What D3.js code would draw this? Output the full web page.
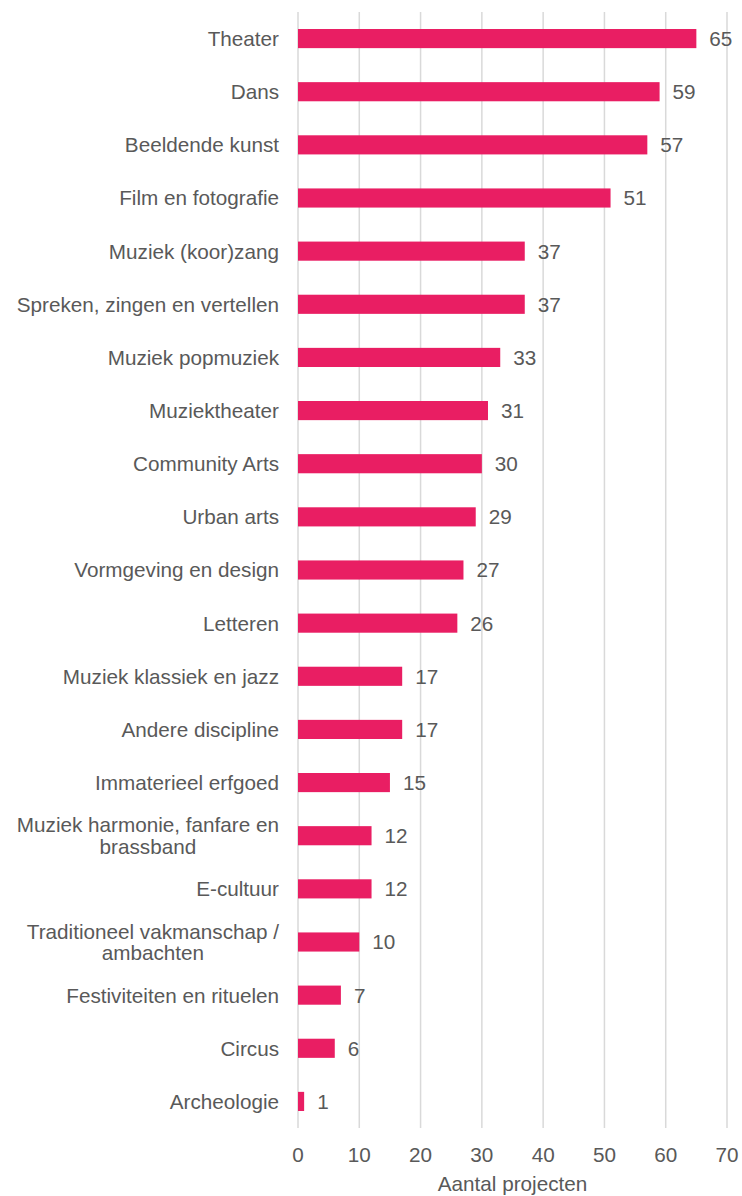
<!DOCTYPE html>
<html>
<head>
<meta charset="utf-8">
<script src="https://cdn.jsdelivr.net/npm/d3@7"></script>
<style>
    body { margin: 0; background: #fff; }
    text { font-family: "Liberation Sans", Arial, sans-serif; fill: #595959; }
</style>
</head>
<body>
<div id="chart"></div>
<script>
// chart data
const categories = [
    ["Theater"], ["Dans"], ["Beeldende kunst"], ["Film en fotografie"],
    ["Muziek (koor)zang"], ["Spreken, zingen en vertellen"], ["Muziek popmuziek"],
    ["Muziektheater"], ["Community Arts"], ["Urban arts"], ["Vormgeving en design"],
    ["Letteren"], ["Muziek klassiek en jazz"], ["Andere discipline"],
    ["Immaterieel erfgoed"], ["Muziek harmonie, fanfare en", "brassband"],
    ["E-cultuur"], ["Traditioneel vakmanschap /", "ambachten"],
    ["Festiviteiten en rituelen"], ["Circus"], ["Archeologie"]
];
const values = [65, 59, 57, 51, 37, 37, 33, 31, 30, 29, 27, 26, 17, 17, 15, 12, 12, 10, 7, 6, 1];
const xTicks = [0, 10, 20, 30, 40, 50, 60, 70];
const xTitle = "Aantal projecten";

const width = 742, height = 1196;
const margin = { top: 12, right: 15, bottom: 68, left: 298 };
const fontSize = 20.7;

let data = categories.map((c, i) => ({ key: c.join(" "), lines: c, value: values[i] }));

let svg = d3.select("#chart").append("svg")
    .attr("width", width)
    .attr("height", height);

let x = d3.scaleLinear()
    .domain([0, 70])
    .range([margin.left, width - margin.right]);

let y = d3.scaleBand()
    .domain(data.map(d => d.key))
    .range([margin.top, height - margin.bottom])
    .paddingInner(0.64)
    .paddingOuter(0.32);

// vertical gridlines
svg.append("g")
    .selectAll("line")
    .data(xTicks)
    .enter()
    .append("line")
    .attr("x1", d => x(d))
    .attr("x2", d => x(d))
    .attr("y1", margin.top)
    .attr("y2", height - margin.bottom)
    .attr("stroke", "#d9d9d9")
    .attr("stroke-width", 1.5);

// bars
svg.append("g")
    .selectAll("rect")
    .data(data)
    .enter()
    .append("rect")
    .attr("x", x(0))
    .attr("y", d => y(d.key))
    .attr("width", d => x(d.value) - x(0))
    .attr("height", y.bandwidth())
    .attr("fill", "#e91e63");

// value labels
svg.append("g")
    .selectAll("text")
    .data(data)
    .enter()
    .append("text")
    .attr("x", d => x(d.value) + 13)
    .attr("y", d => y(d.key) + y.bandwidth() / 2)
    .attr("dy", "0.36em")
    .style("font-size", fontSize + "px")
    .text(d => d.value);

// category labels (multi-line ones are centred on each other)
const lineH = 21.5;
let cat = svg.append("g")
    .selectAll("text")
    .data(data)
    .enter()
    .append("text")
    .style("font-size", fontSize + "px")
    .attr("y", d => y(d.key) + y.bandwidth() / 2 - (d.lines.length - 1) * lineH / 2)
    .attr("dy", "0.36em");

cat.each(function(d) {
    let t = d3.select(this);
    if (d.lines.length === 1) {
        t.attr("x", x(0) - 19).attr("text-anchor", "end").text(d.lines[0]);
    } else {
        // measure widest line to centre the block
        t.text(d.lines[0]);
        let w = this.getComputedTextLength();
        let cx = x(0) - 19 - w / 2;
        t.text(null).attr("text-anchor", "middle");
        d.lines.forEach((l, i) => {
            t.append("tspan")
                .attr("x", cx)
                .attr("dy", i === 0 ? "0.36em" : lineH)
                .text(l);
        });
        t.attr("dy", null);
    }
});

// x tick labels
svg.append("g")
    .selectAll("text")
    .data(xTicks)
    .enter()
    .append("text")
    .attr("x", d => x(d))
    .attr("y", 1162)
    .attr("text-anchor", "middle")
    .style("font-size", fontSize + "px")
    .text(d => d);

// axis title
svg.append("text")
    .attr("x", (x(0) + x(70)) / 2)
    .attr("y", 1191)
    .attr("text-anchor", "middle")
    .style("font-size", fontSize + "px")
    .text(xTitle);
</script>
</body>
</html>
